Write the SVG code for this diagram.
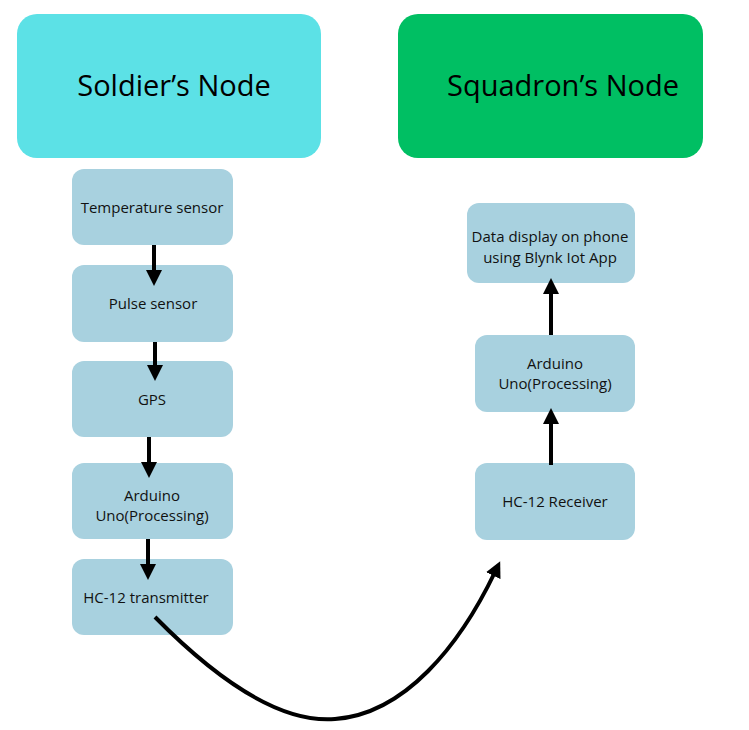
<svg xmlns="http://www.w3.org/2000/svg" width="749" height="730" viewBox="0 0 749 730">
<style>
.big{font-family:"Open Sans","Liberation Sans",sans-serif;font-size:29px;fill:#000;text-anchor:middle}
.sm{font-family:"Open Sans","Liberation Sans",sans-serif;font-size:15px;fill:#111;text-anchor:middle}
.box{fill:#a8d1df}
.ln{stroke:#000;stroke-width:4;fill:none}
</style>
<defs>
<marker id="ah" markerWidth="4" markerHeight="4" refX="1" refY="2" orient="auto" markerUnits="strokeWidth">
<path d="M0,0 L4,2 L0,4 Z" fill="#000"/>
</marker>
</defs>
<rect width="749" height="730" fill="#fff"/>
<g id="soldier">
<rect x="17" y="14" width="304" height="144" rx="20" fill="#5ce1e6"/>
<text class="big" x="174" y="96">Soldier’s Node</text>
</g>
<g id="squadron">
<rect x="398" y="14" width="305" height="144" rx="20" fill="#00bf63"/>
<text class="big" x="563" y="96">Squadron’s Node</text>
</g>
<g id="temp"><rect class="box" x="72" y="169" width="161" height="76" rx="12"/><text class="sm" x="152" y="213">Temperature sensor</text></g>
<g id="pulse"><rect class="box" x="72" y="265" width="161" height="77" rx="12"/><text class="sm" x="153" y="309">Pulse sensor</text></g>
<g id="gps"><rect class="box" x="72" y="361" width="161" height="76" rx="12"/><text class="sm" x="152" y="405">GPS</text></g>
<g id="arduino1"><rect class="box" x="72" y="463" width="161" height="76" rx="12"/><text class="sm" x="152" y="501">Arduino</text><text class="sm" x="152" y="521">Uno(Processing)</text></g>
<g id="hc12t"><rect class="box" x="72" y="559" width="161" height="76" rx="12"/><text class="sm" x="146" y="603">HC-12 transmitter</text></g>
<g id="display"><rect class="box" x="467" y="203" width="168" height="80" rx="12"/><text class="sm" x="550" y="242">Data display on phone</text><text class="sm" x="550" y="263">using Blynk Iot App</text></g>
<g id="arduino2"><rect class="box" x="475" y="335" width="160" height="77" rx="12"/><text class="sm" x="555" y="369">Arduino</text><text class="sm" x="555" y="389">Uno(Processing)</text></g>
<g id="hc12r"><rect class="box" x="475" y="463" width="160" height="77" rx="12"/><text class="sm" x="555" y="507">HC-12 Receiver</text></g>
<g id="connectors">
<line class="ln" x1="154" y1="245" x2="154" y2="274" marker-end="url(#ah)"/>
<line class="ln" x1="155" y1="342" x2="155" y2="369" marker-end="url(#ah)"/>
<line class="ln" x1="149" y1="437" x2="149" y2="466" marker-end="url(#ah)"/>
<line class="ln" x1="148" y1="539" x2="148" y2="568" marker-end="url(#ah)"/>
<line class="ln" x1="551" y1="335" x2="551" y2="290" marker-end="url(#ah)"/>
<line class="ln" x1="551" y1="465" x2="551" y2="420" marker-end="url(#ah)"/>
<path class="ln" d="M155,617 C225,688 285,723 335,719 C405,714 460,645 495,572" marker-end="url(#ah)"/>
</g>
</svg>
